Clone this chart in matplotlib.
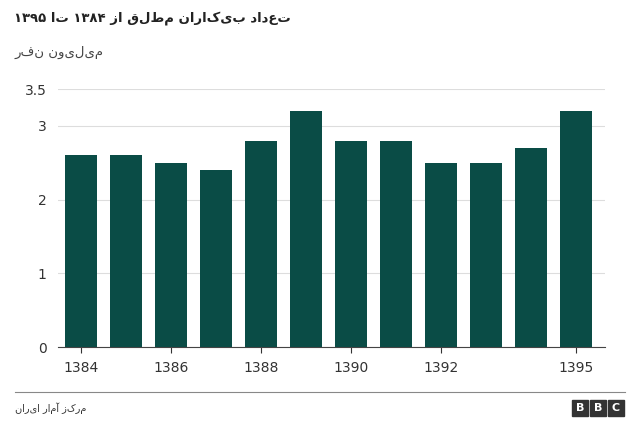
import matplotlib
matplotlib.use("Agg")
import matplotlib.pyplot as plt
from matplotlib.patches import Rectangle

years = [1384, 1385, 1386, 1387, 1388, 1389, 1390, 1391, 1392, 1393, 1394, 1395]
values = [2.6, 2.6, 2.5, 2.4, 2.8, 3.2, 2.8, 2.8, 2.5, 2.5, 2.7, 3.2]
tick_years = [1384, 1386, 1388, 1390, 1392, 1395]
yticks = [0, 1, 2, 3, 3.5]

title = "تعداد بیکاران مطلق از ۱۳۸۴ تا ۱۳۹۵"
subtitle = "میلیون نفر"
source = "مرکز آمار ایران"


def rtl(s):
    # simple visual reorder (no shaping): reverse word order and letters, keep digit runs
    out = []
    for w in s.split(" ")[::-1]:
        out.append(w if w.isdigit() else w[::-1])
    return " ".join(out)


plt.rcParams["font.family"] = ["DejaVu Sans"]
fig = plt.figure(figsize=(6.4, 4.28), dpi=100)
ax = fig.add_axes([0.09, 0.189, 0.855, 0.603])

color = "#0a4c46"
ax.bar(years, values, width=0.71, color=color, zorder=3)
ax.set_xlim(years[0] - 0.51, years[-1] + 0.64)
ax.set_ylim(0, 3.5)
ax.set_yticks(yticks)
ax.set_yticklabels(["0", "1", "2", "3", "3.5"])
ax.set_xticks(tick_years)
ax.grid(axis="y", color="#dddddd", linewidth=0.8, zorder=0)
for s in ["top", "right", "left"]:
    ax.spines[s].set_visible(False)
ax.spines["bottom"].set_color("#444444")
ax.tick_params(axis="y", length=0, labelsize=10, colors="#333333", pad=8)
ax.tick_params(axis="x", length=4, labelsize=10, colors="#333333", pad=6)

fig.text(14 / 640, 1 - 18 / 428, rtl(title), ha="left", va="center",
         fontsize=9.5, fontweight="bold", color="#222222")
fig.text(14 / 640, 1 - 52 / 428, rtl(subtitle), ha="left", va="center",
         fontsize=9.5, color="#444444")

fig.add_artist(plt.Line2D([15 / 640, 625 / 640], [1 - 392 / 428] * 2,
                          color="#888888", linewidth=0.8))
fig.text(15 / 640, 1 - 408 / 428, rtl(source), ha="left", va="center",
         fontsize=7, color="#333333")

# BBC blocks
for i, ch in enumerate("BBC"):
    x0 = 572 + i * 18
    fig.add_artist(Rectangle((x0 / 640, 1 - 416 / 428), 16 / 640, 16 / 428,
                             transform=fig.transFigure, color="#333333"))
    fig.text((x0 + 8) / 640, 1 - 408 / 428, ch, ha="center", va="center",
             fontsize=8, fontweight="bold", color="white")

fig.savefig("out.png", dpi=100)
